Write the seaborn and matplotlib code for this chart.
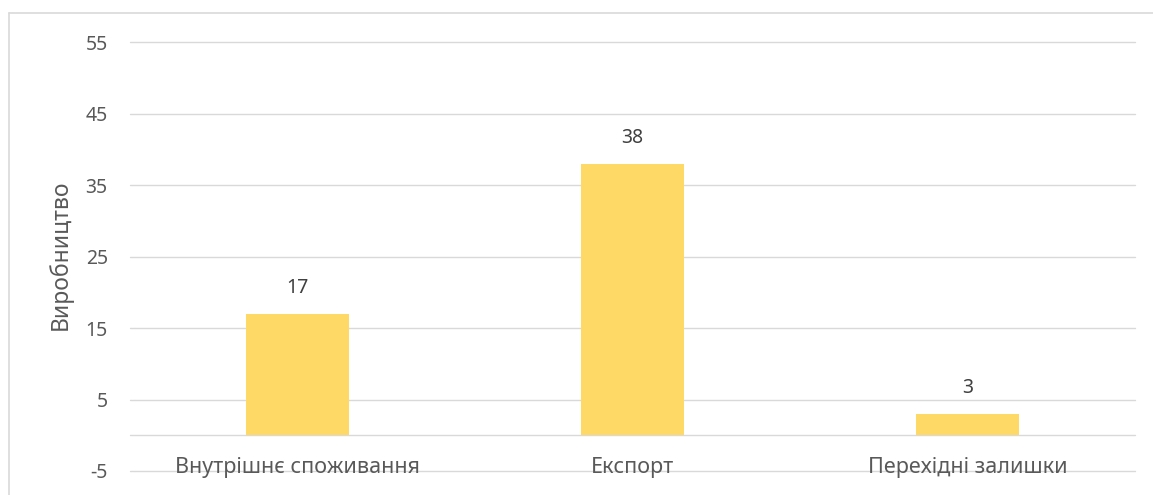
import matplotlib
matplotlib.use("Agg")
import matplotlib.pyplot as plt
import seaborn as sns
import pandas as pd
from matplotlib.lines import Line2D

categories = ["Внутрішнє споживання", "Експорт", "Перехідні залишки"]
values = [17, 38, 3]
y_ticks = [-5, 5, 15, 25, 35, 45, 55]
y_label = "Виробництво"

sns.set_theme(style="white")
plt.rcParams['font.family'] = ['Noto Sans', 'DejaVu Sans']

W, H = 1153, 495
fig = plt.figure(figsize=(W / 100, H / 100), dpi=100)
ax = fig.add_axes([130 / W, 1 - 471 / H, 1005 / W, 429 / H])

df = pd.DataFrame({"cat": categories, "val": values})
sns.barplot(data=df, x="cat", y="val", color="#FFD966", saturation=1,
            width=0.31, ax=ax, zorder=3, linewidth=0, edgecolor="none")

ax.set_ylim(-5, 55)
ax.set_xlim(-0.5, 2.5)
ax.set_yticks(y_ticks)
ax.set_yticklabels([str(t) for t in y_ticks], fontsize=14, color="#595959")
ax.tick_params(axis="y", length=0, pad=16)
ax.set_xticks([])
ax.set_xlabel("")
ax.set_ylabel(y_label, fontsize=16.5, color="#595959", va="center")
ax.yaxis.set_label_coords(-0.0697, 0.505)

for t in y_ticks + [0]:
    ax.axhline(t, color="#D9D9D9", lw=1.0, zorder=1, clip_on=False)

for s in ax.spines.values():
    s.set_visible(False)

for i, (c, v) in enumerate(zip(categories, values)):
    ax.text(i, v + 3.6, str(v), ha="center", va="center", fontsize=14, color="#404040", zorder=4)
    ax.text(i, -4.5, c, ha="center", va="center", fontsize=15.5, color="#595959", zorder=4)

fig.add_artist(Line2D([8.5 / W, 1.0], [1 - 12.5 / H, 1 - 12.5 / H], color="#D9D9D9", lw=1.2))
fig.add_artist(Line2D([8.5 / W, 8.5 / W], [1 - 12.5 / H, 0], color="#D9D9D9", lw=1.2))

fig.savefig("out.png", dpi=100, facecolor="white")
